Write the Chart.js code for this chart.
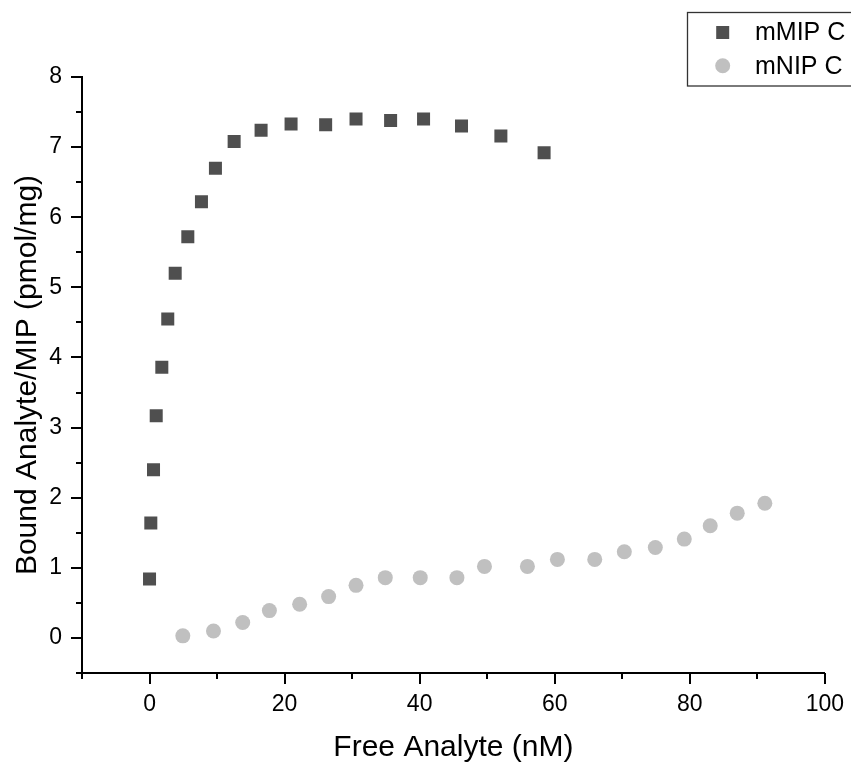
<!DOCTYPE html>
<html><head><meta charset="utf-8">
<script src="https://cdn.jsdelivr.net/npm/chart.js@4/dist/chart.umd.min.js"></script>
<style>html,body{margin:0;padding:0;background:#fff;overflow:hidden}canvas{display:block}</style>
</head><body>
<canvas id="c" width="851" height="767"></canvas>
<script>
const seriesNames = ['mMIP C', 'mNIP C'];
const mipX = [0, 0.19, 0.59, 0.99, 1.82, 2.7, 3.8, 5.67, 7.69, 9.76, 12.53, 16.52, 20.96, 26.08, 30.58, 35.70, 40.58, 46.20, 52.03, 58.43];
const mipY = [0.84, 1.64, 2.40, 3.17, 3.86, 4.55, 5.20, 5.72, 6.22, 6.70, 7.08, 7.24, 7.33, 7.32, 7.40, 7.38, 7.40, 7.30, 7.16, 6.92];
const nipX = [4.93, 9.47, 13.80, 17.75, 22.23, 26.52, 30.58, 34.91, 40.09, 45.52, 49.60, 55.96, 60.40, 65.93, 70.31, 74.90, 79.19, 83.03, 87.03, 91.12];
const nipY = [0.03, 0.10, 0.22, 0.39, 0.48, 0.59, 0.75, 0.86, 0.86, 0.86, 1.02, 1.02, 1.12, 1.12, 1.23, 1.29, 1.41, 1.60, 1.78, 1.92];
const xTickLabels = [0, 20, 40, 60, 80, 100];
const yTickLabels = [0, 1, 2, 3, 4, 5, 6, 7, 8];
const xTitle = 'Free Analyte (nM)';
const yTitle = 'Bound Analyte/MIP (pmol/mg)';

const FONT = "'Liberation Sans', Arial, sans-serif";
const toPts = (xs, ys) => xs.map((x, i) => ({x: x, y: ys[i]}));

const axisTicks = {
  id: 'axisTicks',
  afterDraw(chart) {
    const ctx = chart.ctx;
    const xs = chart.scales.x, ys = chart.scales.y;
    ctx.save();
    ctx.strokeStyle = '#000';
    ctx.lineWidth = 2;
    xs.ticks.forEach(t => {
      const p = Math.round(xs.getPixelForValue(t.value));
      const len = xTickLabels.includes(t.value) ? 11 : 6;
      ctx.beginPath(); ctx.moveTo(p, xs.top); ctx.lineTo(p, xs.top + len); ctx.stroke();
    });
    ys.ticks.forEach(t => {
      const p = Math.round(ys.getPixelForValue(t.value));
      const len = yTickLabels.includes(t.value) ? 11 : 6;
      ctx.beginPath(); ctx.moveTo(ys.right, p); ctx.lineTo(ys.right - len, p); ctx.stroke();
    });
    ctx.restore();
  }
};

const boxLegend = {
  id: 'boxLegend',
  afterDraw(chart) {
    const ctx = chart.ctx;
    ctx.save();
    ctx.strokeStyle = '#333';
    ctx.lineWidth = 1.3;
    ctx.strokeRect(687.5, 12.5, 220, 73.5);
    chart.data.datasets.forEach((ds, i) => {
      const y = 32.5 + i * 33.3;
      ctx.fillStyle = ds.backgroundColor;
      ctx.strokeStyle = ds.borderColor;
      Chart.helpers.drawPoint(ctx, {pointStyle: ds.pointStyle, radius: ds.pointRadius, rotation: 0, borderWidth: 0}, 722.7, y);
      ctx.fillStyle = '#000';
      ctx.font = '25px ' + FONT;
      ctx.textBaseline = 'middle';
      ctx.textAlign = 'left';
      ctx.fillText(ds.label, 755, y + 1);
    });
    ctx.restore();
  }
};

new Chart(document.getElementById('c'), {
  type: 'scatter',
  data: {
    datasets: [
      {label: seriesNames[0], data: toPts(mipX, mipY), pointStyle: 'rect', pointRadius: 9.2,
       backgroundColor: '#4f4f4f', borderColor: '#4f4f4f', borderWidth: 0, showLine: false},
      {label: seriesNames[1], data: toPts(nipX, nipY), pointStyle: 'circle', pointRadius: 7.5,
       backgroundColor: '#c0c0c0', borderColor: '#c0c0c0', borderWidth: 0, showLine: false}
    ]
  },
  options: {
    responsive: false,
    animation: false,
    devicePixelRatio: 1,
    layout: {padding: {top: 77, right: 25, bottom: 0, left: 0}},
    plugins: {legend: {display: false}, tooltip: {enabled: false}},
    scales: {
      x: {
        type: 'linear', min: -10, max: 100,
        afterFit: s => { s.height = 94; },
        ticks: {stepSize: 10, autoSkip: false, maxRotation: 0, padding: 7, color: '#000',
          font: {family: FONT, size: 23},
          callback: v => xTickLabels.includes(v) ? String(v) : ''},
        grid: {display: true, drawOnChartArea: false, drawTicks: true, tickLength: 11, tickColor: 'rgba(0,0,0,0)'},
        border: {display: true, color: '#000', width: 2},
        title: {display: true, text: xTitle, color: '#000', font: {family: FONT, size: 30}, padding: {top: 0, bottom: 1}}
      },
      y: {
        type: 'linear', min: -0.5, max: 8,
        afterFit: s => { s.width = 82; },
        ticks: {stepSize: 0.5, autoSkip: false, padding: 9, color: '#000',
          font: {family: FONT, size: 23},
          callback: v => yTickLabels.includes(v) ? String(v) : ''},
        grid: {display: true, drawOnChartArea: false, drawTicks: true, tickLength: 11, tickColor: 'rgba(0,0,0,0)'},
        border: {display: true, color: '#000', width: 2},
        title: {display: true, text: yTitle, color: '#000', font: {family: FONT, size: 30}, padding: {top: 10, bottom: 0}}
      }
    }
  },
  plugins: [axisTicks, boxLegend]
});
</script>
</body></html>
